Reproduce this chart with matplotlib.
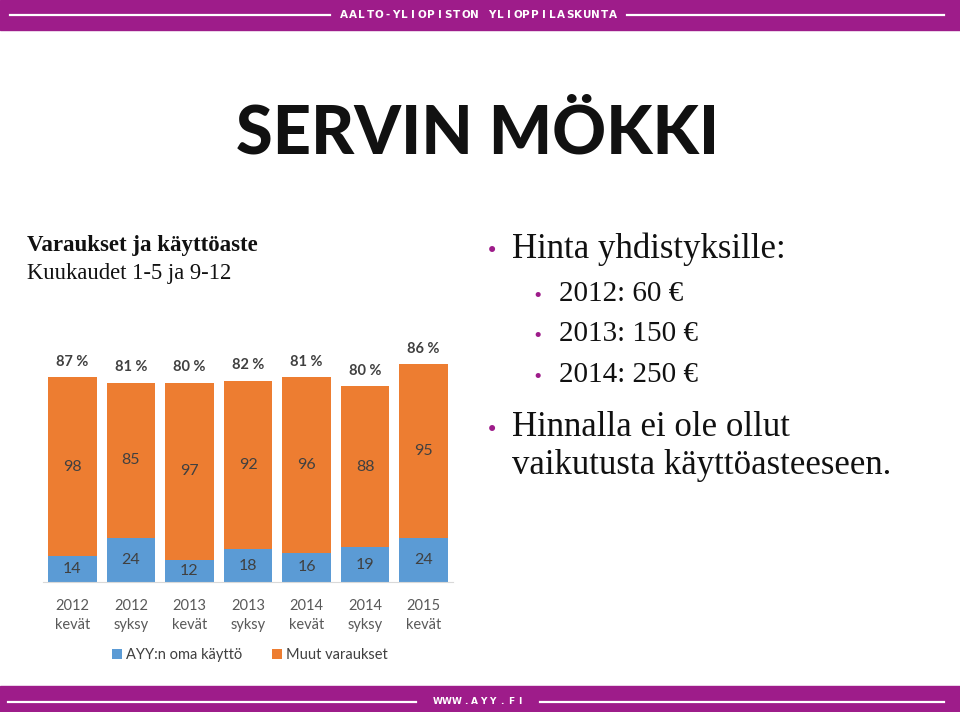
import numpy as np
import matplotlib.pyplot as plt
from matplotlib.patches import Rectangle
from matplotlib.lines import Line2D

periods = ['2012\nkevät', '2012\nsyksy', '2013\nkevät', '2013\nsyksy',
           '2014\nkevät', '2014\nsyksy', '2015\nkevät']
own_use = [14, 24, 12, 18, 16, 19, 24]
other = [98, 85, 97, 92, 96, 88, 95]
usage_pct = [87, 81, 80, 82, 81, 80, 86]

blue = '#5B9BD5'
orange = '#ED7D31'
purple = '#9E1C8A'
W, H = 960, 712

fig = plt.figure(figsize=(9.6, 7.12), dpi=100)


def fx(px):
    return px / W


def fy(py):
    return 1 - py / H


def spaced(s, x0, x1, y, size=7.5):
    # letter-spaced banner text, one glyph at a time
    for i, ch in enumerate(s):
        xp = x0 + (x1 - x0) * i / (len(s) - 1)
        fig.text(fx(xp), fy(y), ch, ha='center', va='center', color='white',
                 fontsize=size, fontweight='bold', family='DejaVu Sans Condensed')


# header and footer bands
fig.patches.append(Rectangle((0, fy(30)), 1, 30 / H, transform=fig.transFigure,
                             color=purple, zorder=0))
fig.patches.append(Rectangle((0, 0), 1, 26 / H, transform=fig.transFigure,
                             color=purple, zorder=0))
for x0, x1, y in [(10, 330, 15), (627, 944, 15), (8, 416, 702), (540, 944, 702)]:
    fig.lines.append(Line2D([fx(x0), fx(x1)], [fy(y), fy(y)], transform=fig.transFigure,
                            color='white', lw=1.6))
spaced('AALTO-YLIOPISTON YLIOPPILASKUNTA', 344, 613, 15)
spaced('WWW.AYY.FI', 438, 520, 702, size=6.5)

# titles
fig.text(fx(478), fy(134), 'SERVIN MÖKKI', ha='center', va='center',
         fontsize=48, fontweight='black', family='Lato', color='#111111')
fig.text(fx(27), fy(246), 'Varaukset ja käyttöaste', ha='left', va='center',
         fontsize=16.5, fontweight='bold', family='Liberation Serif', color='#111111')
fig.text(fx(27), fy(274), 'Kuukaudet 1-5 ja 9-12', ha='left', va='center',
         fontsize=16.3, family='Liberation Serif', color='#111111')

# bullet text
serif = 'Liberation Serif'
bullets = [(492, 512, 249, 'Hinta yhdistyksille:', 25),
           (538, 559, 294, '2012: 60 €', 21),
           (538, 559, 334, '2013: 150 €', 21),
           (538, 559, 375, '2014: 250 €', 21),
           (492, 512, 428, 'Hinnalla ei ole ollut', 25)]
for bx, tx, y, s, size in bullets:
    fig.text(fx(bx), fy(y + 2), '•', ha='center', va='center', color=purple,
             fontsize=size * 0.6, family='DejaVu Sans')
    fig.text(fx(tx), fy(y), s, ha='left', va='center', fontsize=size,
             family=serif, color='#111111')
fig.text(fx(512), fy(466), 'vaikutusta käyttöasteeseen.', ha='left', va='center',
         fontsize=25, family=serif, color='#111111')

# chart
ax = fig.add_axes([fx(43), 130 / H, 410 / W, 130 * 1.83 / H])
x = np.arange(len(periods))
ax.bar(x, own_use, width=0.83, color=blue, label='AYY:n oma käyttö')
ax.bar(x, other, width=0.83, bottom=own_use, color=orange, label='Muut varaukset')
ax.set_xlim(-0.5, len(periods) - 0.5)
ax.set_ylim(0, 130)

lab = dict(family='Lato', color='#404040', fontsize=11.5)
for i in range(len(periods)):
    ax.text(x[i], own_use[i] / 2, str(own_use[i]), ha='center', va='center', **lab)
    ax.text(x[i], own_use[i] + other[i] / 2, str(other[i]), ha='center', va='center', **lab)
    ax.annotate(f'{usage_pct[i]} %', (x[i], own_use[i] + other[i]), xytext=(0, 11),
                textcoords='offset points', ha='center', va='center',
                fontsize=10.5, fontweight='bold', family='Lato', color='#404040')

for s in ['top', 'right', 'left']:
    ax.spines[s].set_visible(False)
ax.spines['bottom'].set_color('#D9D9D9')
ax.set_yticks([])
ax.set_xticks(x)
ax.set_xticklabels(periods, family='Lato', fontsize=10.5, color='#595959', linespacing=1.45)
ax.tick_params(axis='x', length=0, pad=12)

fig.legend(loc='center', bbox_to_anchor=(fx(250), fy(655)), ncol=2, frameon=False,
           prop={'family': 'Lato', 'size': 10.5}, labelcolor='#404040',
           handlelength=0.7, handleheight=0.7, handletextpad=0.3, columnspacing=2.0)

fig.savefig('out.png', dpi=100)
